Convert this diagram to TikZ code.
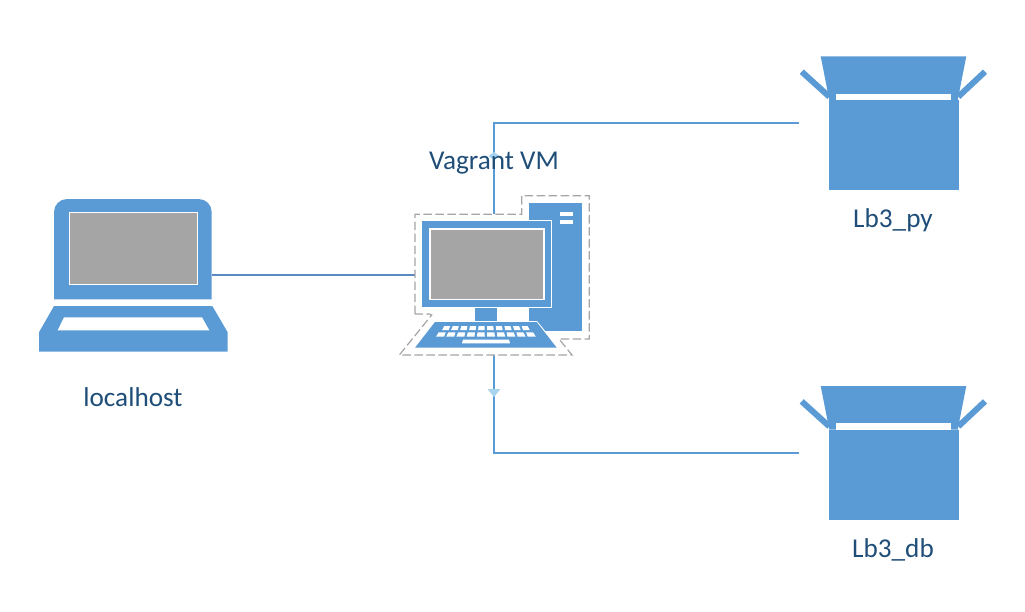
\documentclass[tikz,border=0pt]{standalone}
\usepackage{fontspec}
\setmainfont{Carlito}
\definecolor{iconblue}{HTML}{5B9BD5}
\definecolor{linkblue}{HTML}{5B9BD5}
\definecolor{linkdark}{HTML}{5A8AC0}
\definecolor{marklight}{HTML}{A8D4F0}
\definecolor{screengray}{HTML}{A5A5A5}
\definecolor{labelblue}{HTML}{1F4E79}
\definecolor{dashgray}{HTML}{A5A5A5}
\tikzset{
  icon/.style={fill=iconblue,draw=none},
  hole/.style={fill=white,draw=none},
  screenrect/.style={fill=screengray,draw=white,line width=1.2pt},
  linkline/.style={draw=linkblue,line width=1.1pt},
  linkdk/.style={draw=linkdark,line width=1.1pt},
  tipmark/.style={fill=marklight,draw=none},
  txtlabel/.style={text=labelblue,font=\fontsize{27.2}{32}\selectfont,inner sep=0pt,anchor=base},
  anchorbox/.style={draw=none,inner sep=0pt,outer sep=0pt,minimum width=#1},
  boxflap/.style={draw=iconblue,line width=6pt},
}
\newcommand{\boxicon}[1]{%
  \begin{scope}[yshift=#1]
    \fill[icon] (829.3,100) rectangle (958.7,190.3);
    \fill[icon] (820.7,56.3) -- (966.3,56.3) -- (957.7,100) -- (829.3,100) -- cycle;
    \fill[hole] (836.3,93.7) rectangle (950.7,100.3);
    \draw[boxflap] (801.7,71.7) -- (829.3,96.7);
    \draw[boxflap] (985,71.7) -- (958.3,96.7);
  \end{scope}}
\begin{document}
\begin{tikzpicture}[x=1pt,y=-1pt]
\useasboundingbox (0,0) rectangle (1025,611);
\fill[white] (0,0) rectangle (1025,611);

% anchors
\node[anchorbox=158pt,minimum height=152pt] (laptop) at (133,275) {};
\node[anchorbox=188pt,minimum height=134pt] (boxpy) at (893,123) {};
\node[anchorbox=188pt,minimum height=134pt] (boxdb) at (893,453) {};
\coordinate (vmwest) at (415,275);
\coordinate (vmtop) at (494,214);
\coordinate (vmbottom) at (494,355);
\coordinate (toppass) at (494,123);
\coordinate (botpass) at (494,453);
\coordinate (topmark) at (494,156);
\coordinate (botmark) at (494,392);

% connectors
\draw[linkdk] (laptop.east) -- (vmwest);
\draw[linkline] (vmtop) -- (toppass) -- (boxpy.west);
\draw[linkline] (vmbottom) -- (botpass) -- (boxdb.west);
\fill[tipmark] ([yshift=4pt]topmark) -- ([xshift=5.5pt]topmark) -- ([yshift=-4pt]topmark) -- ([xshift=-5.5pt]topmark) -- cycle;
\fill[tipmark] ([xshift=-6.5pt,yshift=3pt]botmark) -- ([xshift=6.5pt,yshift=3pt]botmark) -- ([yshift=-5pt]botmark) -- cycle;

% laptop
\fill[icon] (54,299.3) -- (54,212) arc[start angle=180,end angle=90,radius=13pt] -- (198.7,199) arc[start angle=90,end angle=0,radius=13pt] -- (211.7,299.3) -- cycle;
\draw[screenrect] (69.3,212.3) rectangle (197.7,284.7);
\fill[icon] (54,306) -- (212.3,306) -- (227.7,332.3) -- (227.7,351.7) -- (39,351.7) -- (39,332.3) -- cycle;
\fill[hole] (64,317.3) -- (202,317.3) -- (209.3,330.3) -- (57.7,330.3) -- cycle;

% computer
\draw[dashgray,line width=1.2pt,dash pattern=on 8.5pt off 3.5pt] (415,314) -- (415,214.3) -- (521.7,214.3) -- (521.7,195.7) -- (589.3,195.7) -- (589.3,339) -- (559,339) -- (572,355) -- (399.3,355) -- (431.7,315) -- (429.3,314) -- (415,314);
\fill[icon] (529,203) rectangle (582,330.7);
\fill[hole] (560.3,212.3) rectangle (572.7,216);
\fill[hole] (560.3,220.3) rectangle (572.7,224.3);
\fill[icon,draw=white,line width=1pt] (421.7,220.7) rectangle (551.5,307);
\draw[screenrect] (430,229) rectangle (544,299.7);
\fill[icon] (475,308.3) rectangle (497,320.7);
\fill[hole] (529,321) -- (537,321) -- (560,349) -- (529,349) -- cycle;
\fill[icon] (435,322) -- (536.7,322) -- (556.7,347.7) -- (415,347.7) -- cycle;
\foreach \i in {0,...,9} {
  \fill[hole] ({485.9+(\i-4.5)*8.6-3},326) -- ({485.9+(\i-4.5)*8.6+3},326) -- ({485.9+(\i-4.5)*9+3.3},330) -- ({485.9+(\i-4.5)*9-3.3},330) -- cycle;
  \fill[hole] ({485.9+(\i-4.5)*9.7-3.5},332.3) -- ({485.9+(\i-4.5)*9.7+3.5},332.3) -- ({485.9+(\i-4.5)*10.2+4},336.7) -- ({485.9+(\i-4.5)*10.2-4},336.7) -- cycle;
}
\fill[hole] (463,339.7) -- (509,339.7) -- (510,343.3) -- (462,343.3) -- cycle;

% boxes
\boxicon{0pt}
\boxicon{-329.7pt}

% labels
\node[txtlabel] (llocal) at (133,406) {localhost};
\node[txtlabel] (lvm) at (494,169.5) {Vagrant VM};
\node[txtlabel] (lpy) at (893,227) {Lb3\_py};
\node[txtlabel] (ldb) at (893,557) {Lb3\_db};
\end{tikzpicture}
\end{document}
